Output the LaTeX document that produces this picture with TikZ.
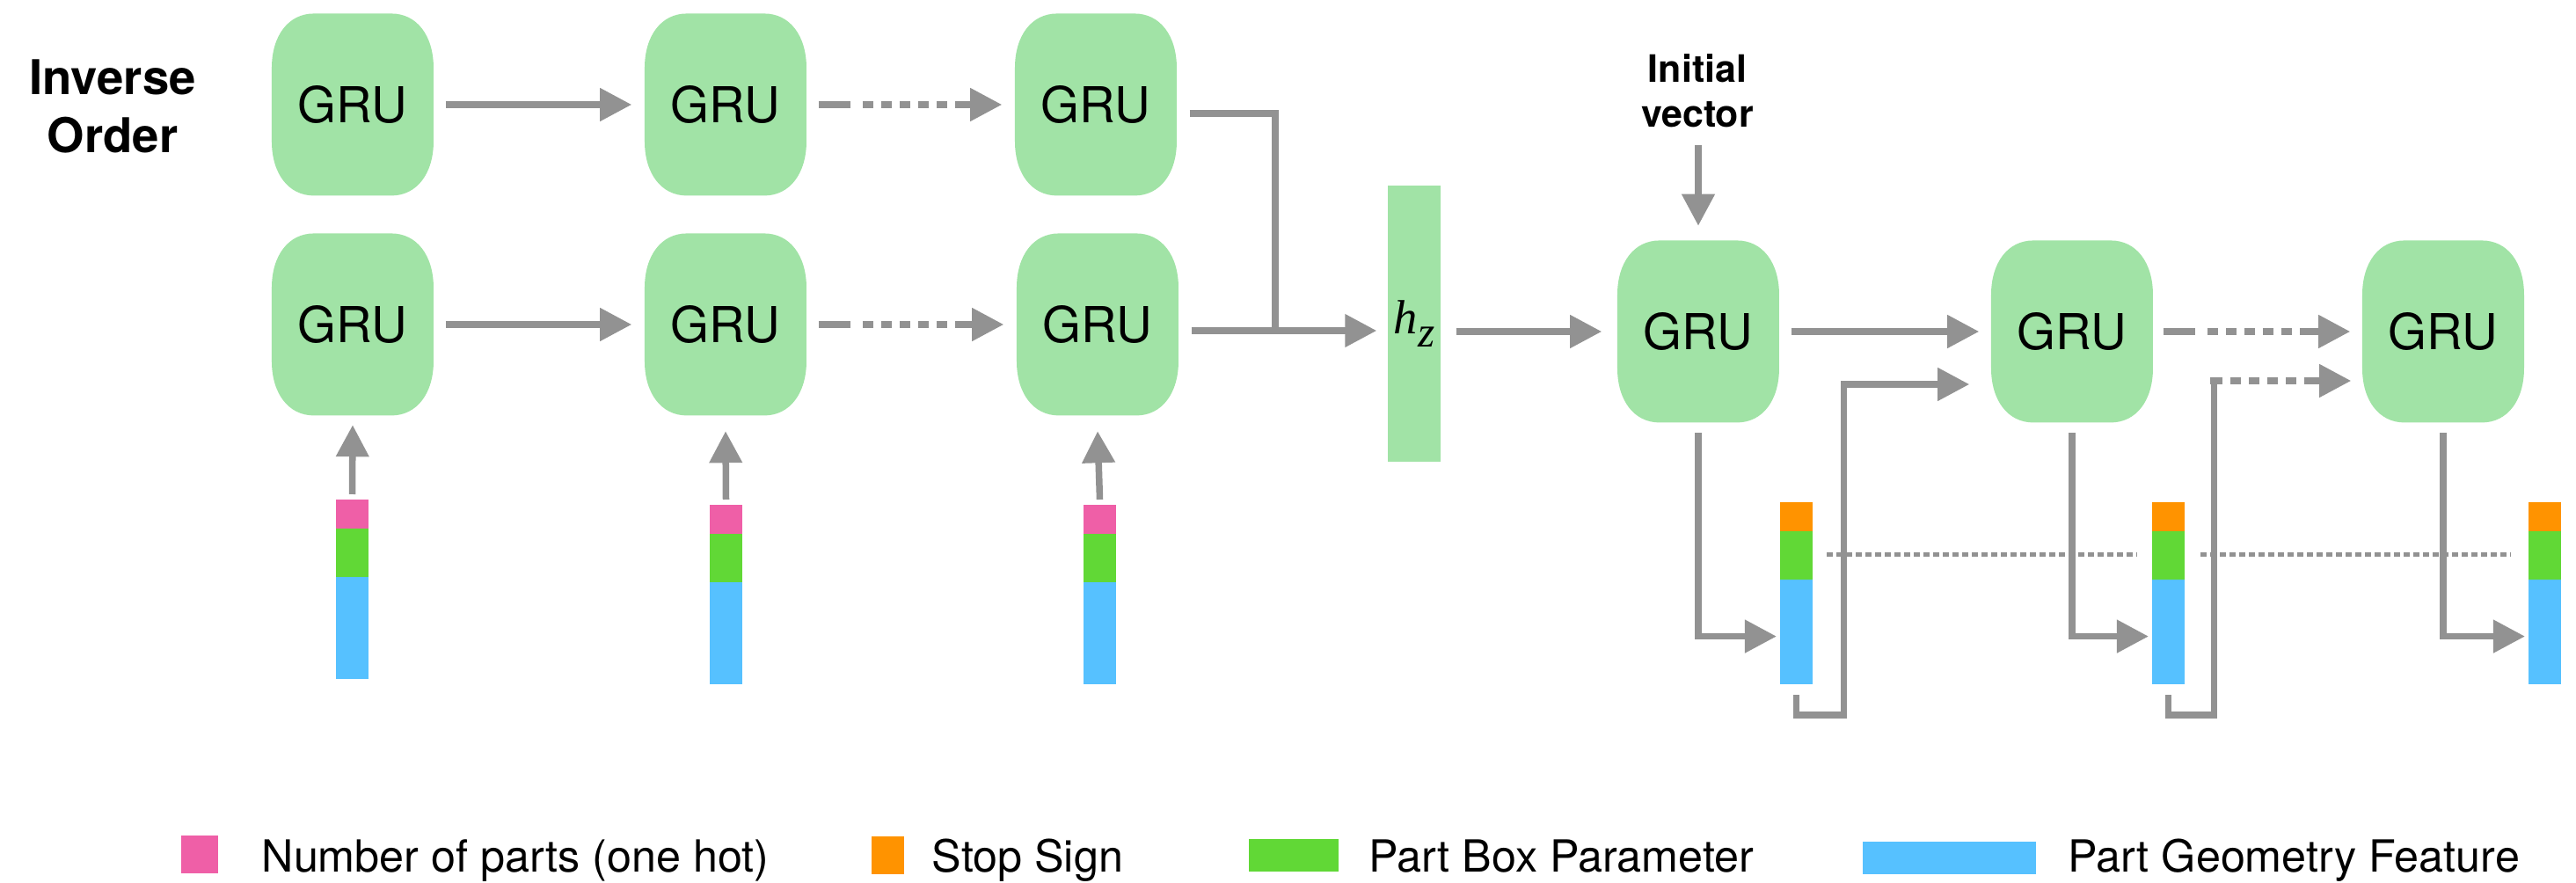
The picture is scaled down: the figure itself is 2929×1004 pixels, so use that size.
\documentclass[tikz,border=0pt]{standalone}
\usepackage{fontspec}
\setmainfont{TeX Gyre Heros}
\newfontfamily\hzfont{Liberation Serif}
\usetikzlibrary{arrows.meta,calc}

\definecolor{grufill}{HTML}{A1E3A6}
\definecolor{linegray}{HTML}{929292}
\definecolor{partpink}{HTML}{EF5FA7}
\definecolor{stoporange}{HTML}{FF9300}
\definecolor{boxgreen}{HTML}{61D836}
\definecolor{geoblue}{HTML}{56C1FF}

\begin{document}
\begin{tikzpicture}[x=0.01cm,y=-0.01cm,
  % GRU cell: a rounded square with soft, elongated corners
  gru/.style={minimum width=1.84cm, minimum height=2.07cm, inner sep=0pt,
    font=\fontsize{16}{19}\selectfont,
    path picture={\fill[grufill]
      ([xshift=0.48cm]path picture bounding box.north west) -- ++(88,0)
      .. controls +(29,0) and +(0,-37) .. ++(48,62) -- ++(0,83)
      .. controls +(0,37) and +(29,0) .. ++(-48,62) -- ++(-88,0)
      .. controls +(-29,0) and +(0,37) .. ++(-48,-62) -- ++(0,-83)
      .. controls +(0,-37) and +(-29,0) .. ++(48,-62) -- cycle;}},
  hzbar/.style={fill=grufill, minimum width=0.6cm, minimum height=3.14cm,
    inner sep=0pt},
  seg/.style={inner sep=0pt, outer sep=0pt, minimum width=0.37cm, anchor=north},
  swatch/.style={inner sep=0pt, outer sep=0pt},
  keytext/.style={anchor=base west, inner sep=0pt, font=\fontsize{14.3}{17}\selectfont},
  headlabel/.style={align=center, inner sep=0pt},
  link/.style={draw=linegray, line width=0.075cm},
  arr/.style={link, -{Triangle[length=0.36cm,width=0.36cm]}},
  dotarr/.style={arr, dash pattern=on 0.36cm off 0.14cm on 0.12cm off 0.09cm
    on 0.12cm off 0.09cm on 0.12cm off 0.09cm on 0.12cm off 0.09cm
    on 0.12cm off 0.09cm on 3cm off 0cm},
  dotarrb/.style={arr, dash pattern=on 0.14cm off 0.09cm on 0.12cm off 0.09cm
    on 0.12cm off 0.09cm on 0.12cm off 0.09cm on 0.12cm off 0.09cm
    on 3cm off 0cm},
  thindot/.style={draw=linegray, line width=0.045cm, dash pattern=on 0.065cm off 0.045cm},
]
\useasboundingbox (0,0) rectangle (2929,1004);

% ---------- encoder ----------
\node[headlabel, font=\fontsize{15.5}{19}\bfseries\selectfont] (order) at (128,121) {Inverse\\Order};

\node[gru] (e11) at (401,119) {GRU};
\node[gru] (e12) at (825,119) {GRU};
\node[gru] (e13) at (1246,119) {GRU};
\node[gru] (e21) at (401,369) {GRU};
\node[gru] (e22) at (825,369) {GRU};
\node[gru] (e23) at (1248,369) {GRU};

% input part vectors
\node[seg, fill=partpink, minimum height=0.33cm] (v1a) at (400.5,568) {};
\node[seg, fill=boxgreen, minimum height=0.55cm] (v1b) at (v1a.south) {};
\node[seg, fill=geoblue, minimum height=1.16cm] (v1c) at (v1b.south) {};
\node[seg, fill=partpink, minimum height=0.33cm] (v2a) at (825.5,574) {};
\node[seg, fill=boxgreen, minimum height=0.55cm] (v2b) at (v2a.south) {};
\node[seg, fill=geoblue, minimum height=1.16cm] (v2c) at (v2b.south) {};
\node[seg, fill=partpink, minimum height=0.33cm] (v3a) at (1250.5,574) {};
\node[seg, fill=boxgreen, minimum height=0.55cm] (v3b) at (v3a.south) {};
\node[seg, fill=geoblue, minimum height=1.16cm] (v3c) at (v3b.south) {};

\draw[arr] ($(v1a.north)+(0,-6)$) -- ($(e21.south)+(0,10)$);
\draw[arr] ($(v2a.north)+(0,-6)$) -- ($(e22.south)+(0,17)$);
\draw[arr] ($(v3a.north)+(0,-6)$) -- ($(e23.south)+(0,17)$);

\draw[arr] ($(e11.east)+(13,0)$) -- ($(e12.west)+(-14,0)$);
\draw[arr] ($(e21.east)+(13,0)$) -- ($(e22.west)+(-14,0)$);
\draw[dotarr] ($(e12.east)+(13,0)$) -- ($(e13.west)+(-14,0)$);
\draw[dotarr] ($(e22.east)+(13,0)$) -- ($(e23.west)+(-14,0)$);

% latent code
\node[hzbar] (hz) at (1608,368)
  {\hzfont\itshape\fontsize{15.5}{16}\selectfont h\raisebox{-0.15cm}{\fontsize{14}{14}\selectfont z}};
\coordinate (j) at ($(e13.east)+(111,257)$);
\draw[link] ($(e13.east)+(14,10)$) -| (j);
\draw[arr] ($(e23.east)+(14,7)$) -- ($(hz.west)+(-12,8)$);

% ---------- decoder ----------
\node[headlabel, font=\fontsize{12.2}{14.5}\bfseries\selectfont] (init) at (1930,103) {Initial\\vector};

\node[gru] (d1) at (1931,377) {GRU};
\node[gru] (d2) at (2356,377) {GRU};
\node[gru] (d3) at (2778,377) {GRU};

\draw[arr] ($(hz.east)+(17,9)$) -- ($(d1.west)+(-17,0)$);
\draw[arr] ($(d1.north)+(0,-108)$) -- ($(d1.north)+(0,-16)$);
\draw[arr] ($(d1.east)+(13,0)$) -- ($(d2.west)+(-13,0)$);
\draw[dotarr] ($(d2.east)+(11,0)$) -- ($(d3.west)+(-13,0)$);

% output part vectors
\node[seg, fill=stoporange, minimum height=0.33cm] (o1a) at (2042.5,571) {};
\node[seg, fill=boxgreen, minimum height=0.55cm] (o1b) at (o1a.south) {};
\node[seg, fill=geoblue, minimum height=1.19cm] (o1c) at (o1b.south) {};
\node[seg, fill=stoporange, minimum height=0.33cm] (o2a) at (2465.5,571) {};
\node[seg, fill=boxgreen, minimum height=0.55cm] (o2b) at (o2a.south) {};
\node[seg, fill=geoblue, minimum height=1.19cm] (o2c) at (o2b.south) {};
\node[seg, fill=stoporange, minimum height=0.33cm] (o3a) at (2893.5,571) {};
\node[seg, fill=boxgreen, minimum height=0.55cm] (o3b) at (o3a.south) {};
\node[seg, fill=geoblue, minimum height=1.19cm] (o3c) at (o3b.south) {};

\draw[thindot] ($(o1b.east)+(16,-1)$) -- ($(o2b.west)+(-17,-1)$);
\draw[thindot] ($(o2b.east)+(18,-1)$) -- ($(o3b.west)+(-20,-1)$);

\draw[arr] ($(d1.south)+(0,11)$) |- ($(o1c.west)+(-4,5)$);
\draw[arr] ($(d2.south)+(0,11)$) |- ($(o2c.west)+(-4,5)$);
\draw[arr] ($(d3.south)+(0,11)$) |- ($(o3c.west)+(-4,5)$);

% feedback of each output into the next step
\draw[arr] ($(o1c.south)+(0,12)$) -- ++(0,23) -- ++(54,0) |- ($(d2.west)+(-24,60)$);
\coordinate (fb) at ($(d3.west)+(-168,56)$);
\draw[link] ($(o2c.south)+(0,12)$) -- ++(0,23) -| (fb);
\draw[dotarrb] ($(fb)+(-4,0)$) -- ($(d3.west)+(-12,56)$);

% ---------- legend ----------
\node[swatch, fill=partpink, minimum width=0.42cm, minimum height=0.43cm] (k1) at (227,971.5) {};
\node[keytext] (k1t) at (297,992) {Number of parts (one hot)};
\node[swatch, fill=stoporange, minimum width=0.37cm, minimum height=0.43cm] (k2) at (1009.5,972.5) {};
\node[keytext] (k2t) at (1059,992) {Stop Sign};
\node[swatch, fill=boxgreen, minimum width=1.02cm, minimum height=0.37cm] (k3) at (1471,972.5) {};
\node[keytext] (k3t) at (1556,992) {Part Box Parameter};
\node[swatch, fill=geoblue, minimum width=1.97cm, minimum height=0.37cm] (k4) at (2216.5,975.5) {};
\node[keytext] (k4t) at (2351,992) {Part Geometry Feature};
\end{tikzpicture}
\end{document}
